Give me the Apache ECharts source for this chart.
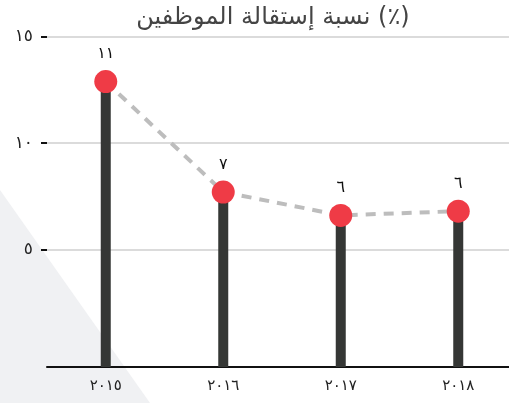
<!DOCTYPE html>
<html>
<head>
<meta charset="utf-8">
<script src="https://cdn.jsdelivr.net/npm/echarts@6/dist/echarts.min.js"></script>
<style>
  html, body { margin: 0; padding: 0; background: #fff; }
  #chart { width: 509px; height: 403px; }
</style>
</head>
<body>
<div id="chart"></div>
<script>
// data
const years = ['٢٠١٥', '٢٠١٦', '٢٠١٧', '٢٠١٨']
const rates = [12.9, 7.7, 6.6, 6.8]
const rateLabels = ['١١', '٧', '٦', '٦']
const yTicks = [5, 10, 15]
const yTickLabels = { 5: '٥', 10: '١٠', 15: '١٥' }
const titleText = 'نسبة إستقالة الموظفين (٪)'

const font = '"DejaVu Sans", sans-serif'
const chart = echarts.init(document.getElementById('chart'))

const option = {
  animation: false,
  backgroundColor: '#fff',
  title: {
    text: titleText,
    left: 268,
    top: 1,
    textAlign: 'center',
    textStyle: { fontFamily: font, fontSize: 24, fontWeight: 'normal', color: '#444' }
  },
  graphic: [{
    type: 'polygon',
    z: -10,
    silent: true,
    shape: { points: [[0, 190], [150, 403], [0, 403]] },
    style: { fill: '#f0f1f3' }
  }],
  grid: { left: 47, width: 470, top: 37, bottom: 36, outerBoundsMode: 'none', containLabel: false },
  xAxis: {
    type: 'category',
    data: years,
    axisLine: { onZero: false, lineStyle: { color: '#111', width: 2 } },
    axisTick: { show: false },
    axisLabel: { fontFamily: font, fontSize: 15, color: '#222', margin: 12 }
  },
  yAxis: {
    type: 'value',
    min: -0.54,
    max: 15,
    startValue: -0.54,
    axisLine: { show: false },
    axisTick: {
      show: true,
      length: 6,
      customValues: yTicks,
      lineStyle: { color: '#111', width: 2 }
    },
    axisLabel: {
      customValues: yTicks,
      fontFamily: font,
      fontSize: 17,
      color: '#222',
      margin: 14,
      formatter: v => yTickLabels[Math.round(v)] || ''
    },
    splitLine: { show: true, lineStyle: { color: '#cfcfcf', width: 1.5 } }
  },
  series: [{
    type: 'bar',
    data: rates,
    barWidth: 10,
    itemStyle: { color: '#353735' },
    z: 2
  }, {
    type: 'line',
    data: rates,
    symbol: 'circle',
    symbolSize: 23,
    itemStyle: { color: '#ef3b46' },
    lineStyle: { color: '#bdbdbd', width: 4, type: [10, 8] },
    label: {
      show: true,
      position: 'top',
      distance: 8,
      fontFamily: font,
      fontSize: 16,
      color: '#111',
      formatter: p => rateLabels[p.dataIndex]
    },
    z: 3
  }]
}

chart.setOption(option)
</script>
</body>
</html>
